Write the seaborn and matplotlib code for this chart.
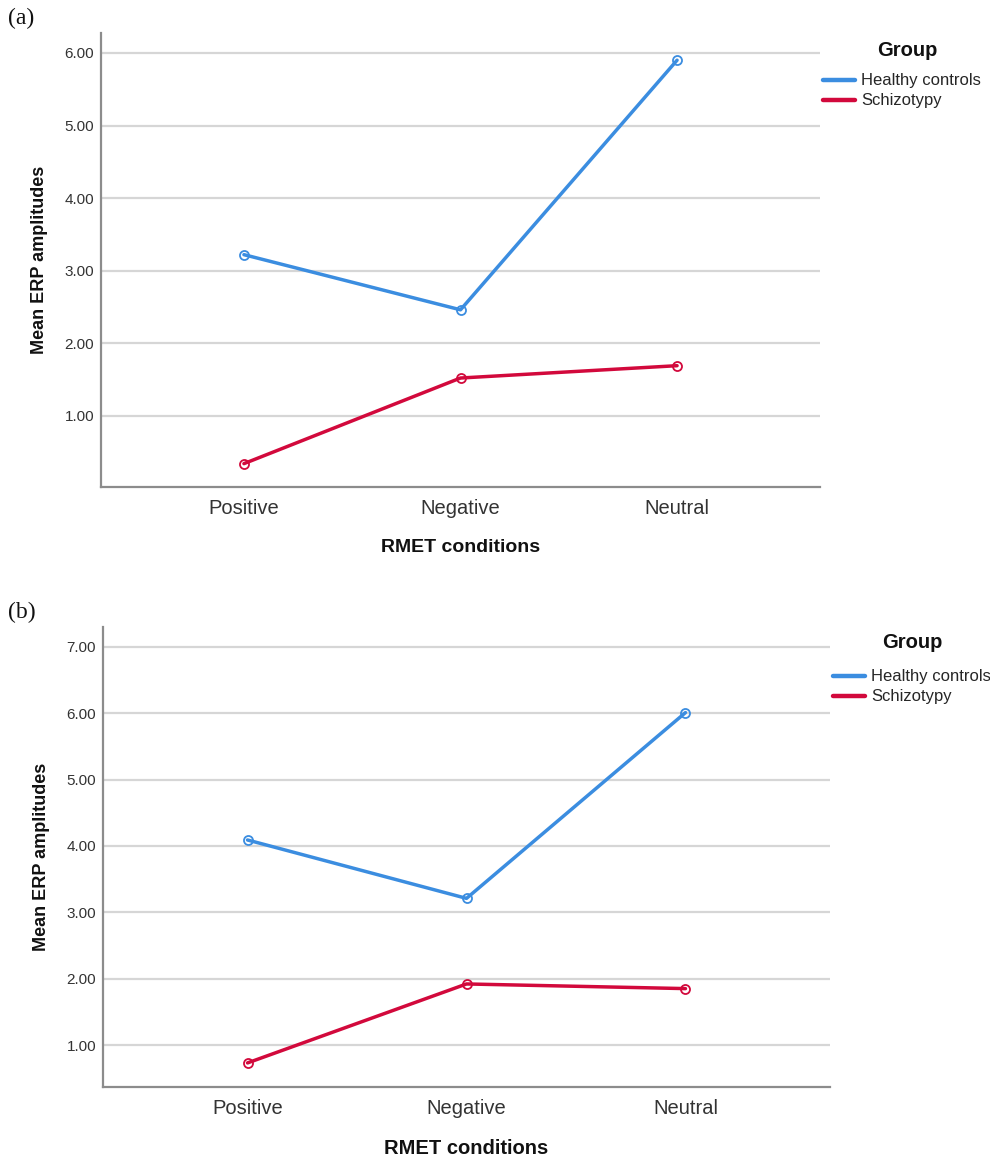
import matplotlib
matplotlib.use("Agg")
import matplotlib.pyplot as plt
import seaborn as sns
import pandas as pd
from matplotlib.ticker import FormatStrFormatter

conditions = ["Positive", "Negative", "Neutral"]
groups = ["Healthy controls", "Schizotypy"]
a_healthy = [3.22, 2.46, 5.90]
a_schizo = [0.34, 1.52, 1.69]
b_healthy = [4.09, 3.21, 6.01]
b_schizo = [0.73, 1.92, 1.85]
a_yticks = [1.0, 2.0, 3.0, 4.0, 5.0, 6.0]
b_yticks = [1.0, 2.0, 3.0, 4.0, 5.0, 6.0, 7.0]

palette = {"Healthy controls": "#3b8de0", "Schizotypy": "#d2093c"}

sns.set_theme(style="white")
plt.rcParams["font.family"] = ["Liberation Sans", "DejaVu Sans"]


def make_df(hc, sz):
    rows = []
    for c, v in zip(conditions, hc):
        rows.append({"cond": c, "val": v, "Group": groups[0]})
    for c, v in zip(conditions, sz):
        rows.append({"cond": c, "val": v, "Group": groups[1]})
    return pd.DataFrame(rows)


fig = plt.figure(figsize=(9.9, 11.59), dpi=100)
W, H = 990, 1159


def ax_rect(l, r, t, b):
    return [l / W, 1 - b / H, (r - l) / W, (b - t) / H]


panels = [
    dict(rect=ax_rect(101, 820, 33, 487), df=make_df(a_healthy, a_schizo), yticks=a_yticks,
         ylim=(0.018, 6.275), tag="(a)", tag_xy=(8, 18), title_xy=(907, 50),
         leg_xy=(820, 70), xlabel_fs=14),
    dict(rect=ax_rect(103, 830, 627, 1087), df=make_df(b_healthy, b_schizo), yticks=b_yticks,
         ylim=(0.367, 7.30), tag="(b)", tag_xy=(8, 612), title_xy=(912, 643),
         leg_xy=(830, 666), xlabel_fs=14.5),
]

for p in panels:
    ax = fig.add_axes(p["rect"])
    sns.lineplot(data=p["df"], x="cond", y="val", hue="Group", palette=palette,
                 hue_order=groups, sort=False, marker="o", markersize=6.5,
                 linewidth=2.5, ax=ax, legend=True)
    for ln in ax.lines:
        ln.set_markerfacecolor("none")
        ln.set_markeredgecolor(ln.get_color())
        ln.set_markeredgewidth(1.3)
    ax.set_xlim(-0.66, 2.66)
    ax.set_ylim(*p["ylim"])
    ax.set_yticks(p["yticks"])
    ax.yaxis.set_major_formatter(FormatStrFormatter("%.2f"))
    ax.grid(axis="y", color="#d6d6d6", linewidth=1.6)
    ax.grid(axis="x", visible=False)
    ax.set_axisbelow(True)
    for s in ["top", "right"]:
        ax.spines[s].set_visible(False)
    for s in ["left", "bottom"]:
        ax.spines[s].set_color("#8c8c8c")
        ax.spines[s].set_linewidth(1.6)
    ax.tick_params(axis="y", length=0, pad=5, labelsize=11, labelcolor="#333333")
    ax.tick_params(axis="x", length=0, pad=9, labelsize=14.5, labelcolor="#333333")
    ax.set_xlabel("RMET conditions", fontsize=p["xlabel_fs"], fontweight="bold",
                  labelpad=15, color="#111111")
    ax.set_ylabel("Mean ERP amplitudes", fontsize=13, fontweight="bold", labelpad=12,
                  color="#111111")
    handles, labels = ax.get_legend_handles_labels()
    leg = ax.legend(handles, labels, loc="upper left",
                    bbox_to_anchor=(p["leg_xy"][0] / W, 1 - p["leg_xy"][1] / H),
                    bbox_transform=fig.transFigure,
                    frameon=False, fontsize=12,
                    handlelength=1.9, handletextpad=0.35, labelspacing=0.3,
                    borderaxespad=0.0, borderpad=0.2)
    for h in leg.get_lines():
        h.set_linewidth(3.2)
        h.set_marker("")
    fig.text(p["title_xy"][0] / W, 1 - p["title_xy"][1] / H, "Group", fontsize=14.5,
             fontweight="bold", ha="center", va="center", color="#111111")
    fig.text(p["tag_xy"][0] / W, 1 - p["tag_xy"][1] / H, p["tag"], fontsize=17,
             family="Liberation Serif", va="center", ha="left", color="#111111")

fig.savefig("out.png", dpi=100, facecolor="white")
